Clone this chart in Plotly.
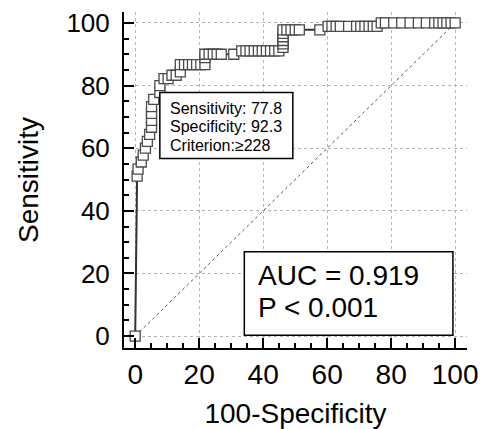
import plotly.graph_objects as go

# ROC curve: 100-Specificity (x) vs Sensitivity (y)
fpr = [0, 0.6, 0.9, 1.9, 2.5, 3.2, 3.8, 4.5, 5.1, 5.1, 5.1, 5.1, 5.8, 7.7, 7.7,
       9.0, 10.3, 11.5, 12.8, 14.1, 14.1, 15.4, 16.7, 17.9, 19.2, 20.5, 21.8,
       21.8, 21.8, 23.1, 24.4, 25.6, 26.9, 30.8, 33.3, 34.6, 35.9, 37.2, 38.5,
       39.7, 41.0, 42.3, 43.6, 44.9, 46.2, 46.2, 46.2, 46.2, 46.2, 46.2, 47.4,
       48.7, 50.0, 51.3, 57.7, 60.3, 61.5, 62.8, 64.1, 66.7, 69.2, 70.5, 71.8,
       73.1, 74.4, 75.6, 76.9, 78.2, 80.8, 83.3, 85.9, 88.5, 91.0, 93.6, 94.9,
       96.2, 97.4, 98.7, 100]
sens = [0, 51.1, 53.3, 55.6, 57.8, 60.0, 62.2, 64.4, 66.7, 68.9, 71.1, 73.3,
        75.6, 77.8, 80.0, 82.2, 82.2, 83.3, 83.3, 84.4, 86.7, 86.7, 86.7, 86.7,
        86.7, 86.7, 86.7, 88.9, 90.0, 90.0, 90.0, 90.0, 90.0, 90.0, 91.1, 91.1,
        91.1, 91.1, 91.1, 91.1, 91.1, 91.1, 91.1, 91.1, 92.2, 93.3, 94.4, 95.6,
        96.7, 97.8, 97.8, 97.8, 97.8, 97.8, 97.8, 98.9, 98.9, 98.9, 98.9, 98.9,
        98.9, 98.9, 98.9, 98.9, 98.9, 98.9, 100, 100, 100, 100, 100, 100, 100,
        100, 100, 100, 100, 100, 100]

# optimal criterion and summary statistics
crit_sens = 77.8
crit_spec = 92.3
crit_value = 228
auc = 0.919
p_label = "P < 0.001"

tick_vals = [0, 20, 40, 60, 80, 100]

FONT = "Liberation Sans, Arial, sans-serif"

fig = go.Figure()

# reference diagonal
fig.add_trace(go.Scatter(
    x=[0, 100], y=[0, 100], mode="lines",
    line=dict(color="#555555", width=1, dash="dot"),
    hoverinfo="skip", showlegend=False))

# ROC curve
fig.add_trace(go.Scatter(
    x=fpr, y=sens, mode="lines+markers",
    line=dict(color="#333333", width=2),
    marker=dict(symbol="square", size=10, color="white",
                line=dict(color="#4a4a4a", width=1.3)),
    showlegend=False))

axis_common = dict(
    tickvals=tick_vals,
    automargin=False,
    showline=True, linecolor="black", linewidth=2,
    ticks="inside", ticklen=10, tickwidth=2, tickcolor="black",
    minor=dict(dtick=5, ticks="inside", ticklen=5, tickwidth=1.5,
               tickcolor="black", showgrid=False),
    showgrid=True, gridcolor="#b5b5b5", gridwidth=1, griddash="dot",
    zeroline=False, mirror=False,
)

fig.update_xaxes(range=[-3.5, 103.7],
                 tickfont=dict(family=FONT, size=28, color="black"),
                 title=dict(text="100-Specificity",
                            font=dict(family=FONT, size=28, color="black"),
                            standoff=20), **axis_common)
fig.update_yaxes(range=[-3.8, 103.5],
                 tickfont=dict(family=FONT, size=26, color="black"),
                 ticklabelstandoff=7,
                 title=dict(text="Sensitivity",
                            font=dict(family=FONT, size=28, color="black"),
                            standoff=20), **axis_common)

crit_x = 100 - crit_spec

# criterion box anchored at the criterion point
fig.add_shape(type="rect", xref="x", yref="y",
              xsizemode="pixel", ysizemode="pixel",
              xanchor=crit_x, yanchor=crit_sens,
              x0=0, x1=133, y0=0, y1=-66,
              line=dict(color="black", width=1.5), fillcolor="white",
              layer="above")
crit_lines = [f"Sensitivity: {crit_sens}",
              f"Specificity: {crit_spec}",
              f"Criterion:\u2265{crit_value}"]
for i, t in enumerate(crit_lines):
    fig.add_annotation(x=crit_x, y=crit_sens, xref="x", yref="y",
                       text=t, showarrow=False, xanchor="left",
                       yanchor="middle", xshift=8, yshift=-16 - 18.3 * i,
                       font=dict(family=FONT, size=16, color="black"))

# AUC box
fig.add_shape(type="rect", xref="x", yref="y", x0=34.1, x1=99.3,
              y0=0.3, y1=26.9, line=dict(color="black", width=1.5),
              fillcolor="white", layer="above")
for i, t in enumerate([f"AUC = {auc}", p_label]):
    fig.add_annotation(x=34.1, y=26.9, xref="x", yref="y", text=t,
                       showarrow=False, xanchor="left", yanchor="middle",
                       xshift=12, yshift=-24 - 31.7 * i,
                       font=dict(family=FONT, size=28, color="black"))

fig.update_layout(
    width=489, height=429,
    margin=dict(l=124, r=22, t=12, b=81),
    plot_bgcolor="white", paper_bgcolor="white",
    font=dict(family=FONT, color="black"),
)

fig.write_html("out.html")
